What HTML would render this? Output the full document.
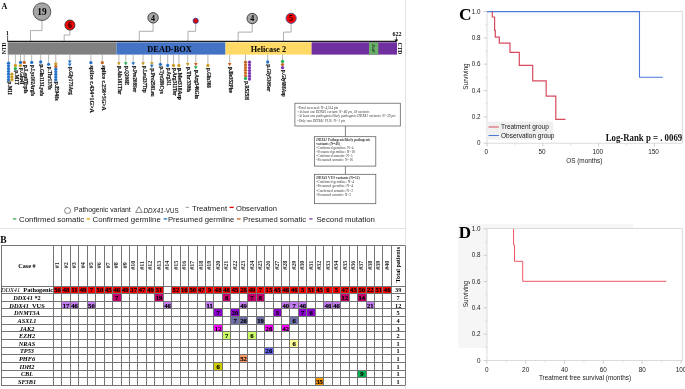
<!DOCTYPE html><html><head><meta charset="utf-8"><style>html,body{margin:0;padding:0;background:#fff;width:685px;height:389px;overflow:hidden}svg{display:block;will-change:transform}</style></head><body>
<svg width="685" height="389" viewBox="0 0 685 389">
<rect x="0" y="0" width="685" height="389" fill="#fff"/>
<line x1="405.5" y1="0" x2="405.5" y2="389" stroke="#e4e4e4" stroke-width="1"/>
<line x1="0" y1="228.5" x2="405.5" y2="228.5" stroke="#e4e4e4" stroke-width="1"/>
<text x="1.5" y="8.6" font-family='"Liberation Serif", serif' font-weight="bold" font-size="8">A</text>
<polyline points="42,20.5 42,30.6 30.5,30.6 30.5,41" fill="none" stroke="#9a9a9a" stroke-width="0.8"/>
<circle cx="42" cy="11.7" r="8.8" fill="#a6a6a6" stroke="#4a4a4a" stroke-width="0.9"/>
<text x="42" y="14.895999999999999" text-anchor="middle" font-family='"Liberation Serif", serif' font-weight="bold" font-size="9.4">19</text>
<polyline points="69.9,30.1 69.9,35 64.2,35 64.2,41" fill="none" stroke="#9a9a9a" stroke-width="0.8"/>
<circle cx="69.9" cy="25.1" r="5" fill="#ff0000" stroke="#333" stroke-width="0.9"/>
<text x="69.9" y="27.752000000000002" text-anchor="middle" font-family='"Liberation Serif", serif' font-weight="bold" font-size="7.8">6</text>
<polyline points="153.1,23.0 153.1,31.3 139.3,31.3 139.3,41" fill="none" stroke="#9a9a9a" stroke-width="0.8"/>
<circle cx="153.1" cy="17.8" r="5.2" fill="#a6a6a6" stroke="#333" stroke-width="0.9"/>
<text x="153.1" y="20.52" text-anchor="middle" font-family='"Liberation Serif", serif' font-weight="bold" font-size="8">4</text>
<polyline points="195.7,23.400000000000002 195.7,31.3 188,31.3 188,41" fill="none" stroke="#9a9a9a" stroke-width="0.8"/>
<circle cx="195.7" cy="20.8" r="2.6" fill="#e00000" stroke="#334499" stroke-width="0.9"/>
<polyline points="252.2,23.7 252.2,32.1 238.2,32.1 238.2,41" fill="none" stroke="#9a9a9a" stroke-width="0.8"/>
<circle cx="252.2" cy="18.5" r="5.2" fill="#a6a6a6" stroke="#333" stroke-width="0.9"/>
<text x="252.2" y="21.22" text-anchor="middle" font-family='"Liberation Serif", serif' font-weight="bold" font-size="8">4</text>
<polyline points="291.1,23.4 291.1,32.1 283.5,32.1 283.5,41" fill="none" stroke="#9a9a9a" stroke-width="0.8"/>
<circle cx="291.1" cy="18.3" r="5.1" fill="#ff0000" stroke="#445599" stroke-width="0.9"/>
<text x="291.1" y="21.02" text-anchor="middle" font-family='"Liberation Serif", serif' font-weight="bold" font-size="8">5</text>
<text x="7.4" y="35.3" text-anchor="middle" font-family='"Liberation Serif", serif' font-weight="bold" font-size="5.6">1</text>
<line x1="7.6" y1="35.5" x2="7.6" y2="41.5" stroke="#222" stroke-width="0.8"/>
<line x1="7.5" y1="41.3" x2="396" y2="41.3" stroke="#1a1a1a" stroke-width="1.3"/>
<text x="397.1" y="36" text-anchor="middle" font-family='"Liberation Serif", serif' font-weight="bold" font-size="6">622</text>
<line x1="396.4" y1="36.6" x2="396.4" y2="41" stroke="#222" stroke-width="0.7"/>
<polygon points="394.4,39.6 398.2,39.6 396.3,42.2" fill="#111"/>
<rect x="7.7" y="42.3" width="108.8" height="12.3" fill="#808080"/>
<rect x="116.5" y="42.3" width="109" height="12.3" fill="#4472c4"/>
<rect x="225.5" y="42.3" width="86.1" height="12.3" fill="#ffd966"/>
<rect x="311.6" y="42.3" width="85.4" height="12.3" fill="#7030a0"/>
<rect x="369" y="42.3" width="9.3" height="12.3" fill="#6aae6a"/>
<text x="0" y="0" transform="translate(372.0,48.5) rotate(90)" text-anchor="middle" font-family='"Liberation Serif", serif' font-weight="bold" font-size="5" fill="#1a3a1a">ZnF</text>
<text x="169.5" y="51.5" text-anchor="middle" font-family='"Liberation Serif", serif' font-weight="bold" font-size="8.5" textLength="44.3" lengthAdjust="spacingAndGlyphs">DEAD-BOX</text>
<text x="268.45" y="51.7" text-anchor="middle" font-family='"Liberation Serif", serif' font-weight="bold" font-size="8.6" textLength="35.5" lengthAdjust="spacingAndGlyphs">Helicase 2</text>
<text x="0" y="0" transform="translate(6.2,48.4) rotate(-90)" text-anchor="middle" font-family='"Liberation Serif", serif' font-weight="bold" font-size="5.6">NTD</text>
<text x="0" y="0" transform="translate(397.6,48.4) rotate(90)" text-anchor="middle" font-family='"Liberation Serif", serif' font-weight="bold" font-size="5.6">CTD</text>
<line x1="8.5" y1="54.6" x2="8.5" y2="63.2" stroke="#9a9a9a" stroke-width="0.7"/>
<circle cx="8.5" cy="63.2" r="1.65" fill="#1f6fc5" stroke="#ffffff" stroke-opacity="0.35" stroke-width="0.3"/>
<circle cx="8.5" cy="65.95" r="1.65" fill="#1f6fc5" stroke="#ffffff" stroke-opacity="0.35" stroke-width="0.3"/>
<circle cx="8.5" cy="68.7" r="1.65" fill="#1f6fc5" stroke="#ffffff" stroke-opacity="0.35" stroke-width="0.3"/>
<circle cx="8.5" cy="71.45" r="1.65" fill="#1f6fc5" stroke="#ffffff" stroke-opacity="0.35" stroke-width="0.3"/>
<circle cx="8.5" cy="74.2" r="1.65" fill="#1f6fc5" stroke="#ffffff" stroke-opacity="0.35" stroke-width="0.3"/>
<circle cx="8.5" cy="76.95" r="1.65" fill="#1f6fc5" stroke="#ffffff" stroke-opacity="0.35" stroke-width="0.3"/>
<circle cx="8.5" cy="79.7" r="1.65" fill="#1f6fc5" stroke="#ffffff" stroke-opacity="0.35" stroke-width="0.3"/>
<circle cx="11.9" cy="74.2" r="1.65" fill="#c9981e" stroke="#ffffff" stroke-opacity="0.35" stroke-width="0.3"/>
<circle cx="11.9" cy="76.95" r="1.65" fill="#c9981e" stroke="#ffffff" stroke-opacity="0.35" stroke-width="0.3"/>
<circle cx="11.9" cy="79.7" r="1.65" fill="#c9981e" stroke="#ffffff" stroke-opacity="0.35" stroke-width="0.3"/>
<text x="0" y="0" transform="translate(8.0,81.6) rotate(90)" font-family='"Liberation Serif", serif' font-weight="bold" font-size="5.4" fill="#111" stroke="#111" stroke-width="0.18" textLength="13.2" lengthAdjust="spacingAndGlyphs">p.M1I</text>
<line x1="15.4" y1="54.6" x2="15.4" y2="65.5" stroke="#9a9a9a" stroke-width="0.7"/>
<circle cx="15.4" cy="65.5" r="1.65" fill="#c9981e" stroke="#ffffff" stroke-opacity="0.35" stroke-width="0.3"/>
<circle cx="15.4" cy="68.6" r="1.65" fill="#1fae4f" stroke="#ffffff" stroke-opacity="0.35" stroke-width="0.3"/>
<text x="0" y="0" transform="translate(14.9,70.6) rotate(90)" font-family='"Liberation Serif", serif' font-weight="bold" font-size="5.4" fill="#111" stroke="#111" stroke-width="0.18" textLength="14.5" lengthAdjust="spacingAndGlyphs">p.M1T</text>
<line x1="20.5" y1="54.6" x2="20.5" y2="62.4" stroke="#9a9a9a" stroke-width="0.7"/>
<circle cx="20.5" cy="62.4" r="1.65" fill="#1f6fc5" stroke="#ffffff" stroke-opacity="0.35" stroke-width="0.3"/>
<circle cx="20.5" cy="65.6" r="1.65" fill="#c9981e" stroke="#ffffff" stroke-opacity="0.35" stroke-width="0.3"/>
<text x="0" y="0" transform="translate(20.0,68) rotate(90)" font-family='"Liberation Serif", serif' font-weight="bold" font-size="5.4" fill="#111" stroke="#111" stroke-width="0.18" textLength="16.3" lengthAdjust="spacingAndGlyphs">p.Glu4I</text>
<line x1="24.2" y1="54.6" x2="24.2" y2="62.4" stroke="#9a9a9a" stroke-width="0.7"/>
<circle cx="24.2" cy="62.4" r="1.65" fill="#c8641e" stroke="#ffffff" stroke-opacity="0.35" stroke-width="0.3"/>
<text x="0" y="0" transform="translate(23.7,65) rotate(90)" font-family='"Liberation Serif", serif' font-weight="bold" font-size="5.4" fill="#111" stroke="#111" stroke-width="0.18" textLength="28.3" lengthAdjust="spacingAndGlyphs">p.Leu8Trpfs</text>
<line x1="31.7" y1="54.6" x2="31.7" y2="62.4" stroke="#9a9a9a" stroke-width="0.7"/>
<circle cx="31.7" cy="62.4" r="1.65" fill="#1f6fc5" stroke="#ffffff" stroke-opacity="0.35" stroke-width="0.3"/>
<text x="0" y="0" transform="translate(31.2,65) rotate(90)" font-family='"Liberation Serif", serif' font-weight="bold" font-size="5.4" fill="#111" stroke="#111" stroke-width="0.18" textLength="30.9" lengthAdjust="spacingAndGlyphs">p.Lys102Argfs</text>
<line x1="40.7" y1="54.6" x2="40.7" y2="62.0" stroke="#9a9a9a" stroke-width="0.7"/>
<circle cx="40.7" cy="62.0" r="1.65" fill="#1f6fc5" stroke="#ffffff" stroke-opacity="0.35" stroke-width="0.3"/>
<text x="0" y="0" transform="translate(40.2,64.5) rotate(90)" font-family='"Liberation Serif", serif' font-weight="bold" font-size="5.4" fill="#111" stroke="#111" stroke-width="0.18" textLength="31.4" lengthAdjust="spacingAndGlyphs">p.Gln113Lysfs</text>
<line x1="48.6" y1="54.6" x2="48.6" y2="64.3" stroke="#9a9a9a" stroke-width="0.7"/>
<circle cx="48.6" cy="64.3" r="1.65" fill="#1f6fc5" stroke="#ffffff" stroke-opacity="0.35" stroke-width="0.3"/>
<text x="0" y="0" transform="translate(48.1,66.8) rotate(90)" font-family='"Liberation Serif", serif' font-weight="bold" font-size="5.4" fill="#111" stroke="#111" stroke-width="0.18" textLength="22.9" lengthAdjust="spacingAndGlyphs">p.Thr137fs</text>
<line x1="55.8" y1="54.6" x2="55.8" y2="64.0" stroke="#9a9a9a" stroke-width="0.7"/>
<circle cx="55.8" cy="64.0" r="1.65" fill="#c9981e" stroke="#ffffff" stroke-opacity="0.35" stroke-width="0.3"/>
<circle cx="55.8" cy="66.62" r="1.65" fill="#c8641e" stroke="#ffffff" stroke-opacity="0.35" stroke-width="0.3"/>
<circle cx="55.8" cy="69.24" r="1.65" fill="#1f6fc5" stroke="#ffffff" stroke-opacity="0.35" stroke-width="0.3"/>
<circle cx="55.8" cy="71.86" r="1.65" fill="#1f6fc5" stroke="#ffffff" stroke-opacity="0.35" stroke-width="0.3"/>
<circle cx="55.8" cy="74.48" r="1.65" fill="#1f6fc5" stroke="#ffffff" stroke-opacity="0.35" stroke-width="0.3"/>
<circle cx="55.8" cy="77.1" r="1.65" fill="#1f6fc5" stroke="#ffffff" stroke-opacity="0.35" stroke-width="0.3"/>
<circle cx="55.8" cy="79.72" r="1.65" fill="#1f6fc5" stroke="#ffffff" stroke-opacity="0.35" stroke-width="0.3"/>
<text x="0" y="0" transform="translate(55.3,81.5) rotate(90)" font-family='"Liberation Serif", serif' font-weight="bold" font-size="5.4" fill="#111" stroke="#111" stroke-width="0.18" textLength="19.1" lengthAdjust="spacingAndGlyphs">p.E94fs</text>
<line x1="69.75" y1="54.6" x2="69.75" y2="62" stroke="#9a9a9a" stroke-width="0.7"/>
<polygon points="67.95,60.5 71.55,60.5 69.75,63.7" fill="#1f6fc5"/>
<polygon points="67.95,63.5 71.55,63.5 69.75,66.7" fill="#1f6fc5"/>
<text x="0" y="0" transform="translate(69.25,67) rotate(90)" font-family='"Liberation Serif", serif' font-weight="bold" font-size="5.4" fill="#111" stroke="#111" stroke-width="0.18" textLength="27.8" lengthAdjust="spacingAndGlyphs">p.Gly173Arg</text>
<line x1="90.9" y1="54.6" x2="90.9" y2="62.7" stroke="#9a9a9a" stroke-width="0.7"/>
<circle cx="90.9" cy="62.7" r="1.65" fill="#1f6fc5" stroke="#ffffff" stroke-opacity="0.35" stroke-width="0.3"/>
<text x="0" y="0" transform="translate(90.4,65.5) rotate(90)" font-family='"Liberation Serif", serif' font-weight="bold" font-size="5.4" fill="#111" stroke="#111" stroke-width="0.18" textLength="47.4" lengthAdjust="spacingAndGlyphs">splice c.434+1G&gt;A</text>
<line x1="102.3" y1="54.6" x2="102.3" y2="62.7" stroke="#9a9a9a" stroke-width="0.7"/>
<circle cx="102.3" cy="62.7" r="1.65" fill="#c8641e" stroke="#ffffff" stroke-opacity="0.35" stroke-width="0.3"/>
<text x="0" y="0" transform="translate(101.8,65.5) rotate(90)" font-family='"Liberation Serif", serif' font-weight="bold" font-size="5.4" fill="#111" stroke="#111" stroke-width="0.18" textLength="45.1" lengthAdjust="spacingAndGlyphs">splice c.258+5G&gt;A</text>
<line x1="118.9" y1="54.6" x2="118.9" y2="63.7" stroke="#9a9a9a" stroke-width="0.7"/>
<polygon points="117.10000000000001,62.2 120.7,62.2 118.9,65.4" fill="#c9981e"/>
<text x="0" y="0" transform="translate(118.4,66) rotate(90)" font-family='"Liberation Serif", serif' font-weight="bold" font-size="5.4" fill="#111" stroke="#111" stroke-width="0.18" textLength="28.4" lengthAdjust="spacingAndGlyphs">p.Ala181Thr</text>
<line x1="125.8" y1="54.6" x2="125.8" y2="63.7" stroke="#9a9a9a" stroke-width="0.7"/>
<polygon points="124.0,62.2 127.6,62.2 125.8,65.4" fill="#1fae4f"/>
<text x="0" y="0" transform="translate(125.3,66) rotate(90)" font-family='"Liberation Serif", serif' font-weight="bold" font-size="5.4" fill="#111" stroke="#111" stroke-width="0.18" textLength="19.1" lengthAdjust="spacingAndGlyphs">p.Q208E</text>
<line x1="133.2" y1="54.6" x2="133.2" y2="63.7" stroke="#9a9a9a" stroke-width="0.7"/>
<polygon points="131.39999999999998,62.2 135.0,62.2 133.2,65.4" fill="#1f6fc5"/>
<text x="0" y="0" transform="translate(132.7,66) rotate(90)" font-family='"Liberation Serif", serif' font-weight="bold" font-size="5.4" fill="#111" stroke="#111" stroke-width="0.18" textLength="26.1" lengthAdjust="spacingAndGlyphs">p.Pro208Ser</text>
<line x1="143.1" y1="54.6" x2="143.1" y2="63.7" stroke="#9a9a9a" stroke-width="0.7"/>
<polygon points="141.29999999999998,62.2 144.9,62.2 143.1,65.4" fill="#c9981e"/>
<text x="0" y="0" transform="translate(142.6,66) rotate(90)" font-family='"Liberation Serif", serif' font-weight="bold" font-size="5.4" fill="#111" stroke="#111" stroke-width="0.18" textLength="26.8" lengthAdjust="spacingAndGlyphs">p.Leu237Trp</text>
<line x1="151.8" y1="54.6" x2="151.8" y2="63.7" stroke="#9a9a9a" stroke-width="0.7"/>
<polygon points="150.0,62.2 153.60000000000002,62.2 151.8,65.4" fill="#c9981e"/>
<polygon points="150.0,64.8 153.60000000000002,64.8 151.8,68.0" fill="#1f6fc5"/>
<text x="0" y="0" transform="translate(151.3,68.5) rotate(90)" font-family='"Liberation Serif", serif' font-weight="bold" font-size="5.4" fill="#111" stroke="#111" stroke-width="0.18" textLength="28.2" lengthAdjust="spacingAndGlyphs">p.Pro258Leu</text>
<line x1="160.4" y1="54.6" x2="160.4" y2="64.3" stroke="#9a9a9a" stroke-width="0.7"/>
<circle cx="160.4" cy="64.3" r="1.65" fill="#1f6fc5" stroke="#ffffff" stroke-opacity="0.35" stroke-width="0.3"/>
<text x="0" y="0" transform="translate(159.9,66.5) rotate(90)" font-family='"Liberation Serif", serif' font-weight="bold" font-size="5.4" fill="#111" stroke="#111" stroke-width="0.18" textLength="27.1" lengthAdjust="spacingAndGlyphs">p.Tyr289Cys</text>
<line x1="167.7" y1="54.6" x2="167.7" y2="65.5" stroke="#9a9a9a" stroke-width="0.7"/>
<circle cx="167.7" cy="65.5" r="1.65" fill="#1f6fc5" stroke="#ffffff" stroke-opacity="0.35" stroke-width="0.3"/>
<text x="0" y="0" transform="translate(167.2,68) rotate(90)" font-family='"Liberation Serif", serif' font-weight="bold" font-size="5.4" fill="#111" stroke="#111" stroke-width="0.18" textLength="17.9" lengthAdjust="spacingAndGlyphs">p.Arg311</text>
<line x1="173.5" y1="54.6" x2="173.5" y2="65.5" stroke="#9a9a9a" stroke-width="0.7"/>
<circle cx="173.5" cy="65.5" r="1.65" fill="#c9981e" stroke="#ffffff" stroke-opacity="0.35" stroke-width="0.3"/>
<text x="0" y="0" transform="translate(173.0,68) rotate(90)" font-family='"Liberation Serif", serif' font-weight="bold" font-size="5.4" fill="#111" stroke="#111" stroke-width="0.18" textLength="27.5" lengthAdjust="spacingAndGlyphs">p.Arg311Ter</text>
<line x1="178.9" y1="54.6" x2="178.9" y2="65.5" stroke="#9a9a9a" stroke-width="0.7"/>
<circle cx="178.9" cy="65.5" r="1.65" fill="#c9981e" stroke="#ffffff" stroke-opacity="0.35" stroke-width="0.3"/>
<text x="0" y="0" transform="translate(178.4,68) rotate(90)" font-family='"Liberation Serif", serif' font-weight="bold" font-size="5.4" fill="#111" stroke="#111" stroke-width="0.18" textLength="31.8" lengthAdjust="spacingAndGlyphs">p.Met318Asp</text>
<line x1="187.7" y1="54.6" x2="187.7" y2="64.5" stroke="#9a9a9a" stroke-width="0.7"/>
<polygon points="185.89999999999998,63.0 189.5,63.0 187.7,66.2" fill="#c9981e"/>
<text x="0" y="0" transform="translate(187.2,67) rotate(90)" font-family='"Liberation Serif", serif' font-weight="bold" font-size="5.4" fill="#111" stroke="#111" stroke-width="0.18" textLength="25.1" lengthAdjust="spacingAndGlyphs">p.Thr330fs</text>
<line x1="195.8" y1="54.6" x2="195.8" y2="64.6" stroke="#9a9a9a" stroke-width="0.7"/>
<polygon points="194.0,63.099999999999994 197.60000000000002,63.099999999999994 195.8,66.3" fill="#c8641e"/>
<polygon points="194.0,66.19999999999999 197.60000000000002,66.19999999999999 195.8,69.39999999999999" fill="#1fae4f"/>
<text x="0" y="0" transform="translate(195.3,70) rotate(90)" font-family='"Liberation Serif", serif' font-weight="bold" font-size="5.4" fill="#111" stroke="#111" stroke-width="0.18" textLength="29.0" lengthAdjust="spacingAndGlyphs">p.Arg346Gln</text>
<line x1="207.9" y1="54.6" x2="207.9" y2="65.5" stroke="#9a9a9a" stroke-width="0.7"/>
<circle cx="207.9" cy="65.5" r="1.65" fill="#c9981e" stroke="#ffffff" stroke-opacity="0.35" stroke-width="0.3"/>
<text x="0" y="0" transform="translate(207.4,68) rotate(90)" font-family='"Liberation Serif", serif' font-weight="bold" font-size="5.4" fill="#111" stroke="#111" stroke-width="0.18" textLength="19.7" lengthAdjust="spacingAndGlyphs">p.Gln368</text>
<line x1="229.7" y1="54.6" x2="229.7" y2="64.6" stroke="#9a9a9a" stroke-width="0.7"/>
<polygon points="227.89999999999998,63.099999999999994 231.5,63.099999999999994 229.7,66.3" fill="#c8641e"/>
<text x="0" y="0" transform="translate(229.2,67) rotate(90)" font-family='"Liberation Serif", serif' font-weight="bold" font-size="5.4" fill="#111" stroke="#111" stroke-width="0.18" textLength="25.8" lengthAdjust="spacingAndGlyphs">p.Ile352Phe</text>
<line x1="245.5" y1="54.6" x2="245.5" y2="62.2" stroke="#9a9a9a" stroke-width="0.7"/>
<circle cx="245.5" cy="62.2" r="1.65" fill="#c8641e" stroke="#ffffff" stroke-opacity="0.35" stroke-width="0.3"/>
<circle cx="245.5" cy="64.92" r="1.65" fill="#c8641e" stroke="#ffffff" stroke-opacity="0.35" stroke-width="0.3"/>
<circle cx="245.5" cy="67.64" r="1.65" fill="#c8641e" stroke="#ffffff" stroke-opacity="0.35" stroke-width="0.3"/>
<circle cx="245.5" cy="70.36" r="1.65" fill="#c8641e" stroke="#ffffff" stroke-opacity="0.35" stroke-width="0.3"/>
<circle cx="245.5" cy="73.08" r="1.65" fill="#c8641e" stroke="#ffffff" stroke-opacity="0.35" stroke-width="0.3"/>
<circle cx="245.5" cy="75.80000000000001" r="1.65" fill="#c8641e" stroke="#ffffff" stroke-opacity="0.35" stroke-width="0.3"/>
<circle cx="245.5" cy="78.52000000000001" r="1.65" fill="#1fae4f" stroke="#ffffff" stroke-opacity="0.35" stroke-width="0.3"/>
<circle cx="249.5" cy="62.2" r="1.65" fill="#7a2fb0" stroke="#ffffff" stroke-opacity="0.35" stroke-width="0.3"/>
<circle cx="249.5" cy="65.0" r="1.65" fill="#7a2fb0" stroke="#ffffff" stroke-opacity="0.35" stroke-width="0.3"/>
<circle cx="249.5" cy="67.8" r="1.65" fill="#7a2fb0" stroke="#ffffff" stroke-opacity="0.35" stroke-width="0.3"/>
<circle cx="249.5" cy="70.6" r="1.65" fill="#7a2fb0" stroke="#ffffff" stroke-opacity="0.35" stroke-width="0.3"/>
<circle cx="249.5" cy="73.4" r="1.65" fill="#7a2fb0" stroke="#ffffff" stroke-opacity="0.35" stroke-width="0.3"/>
<circle cx="249.5" cy="76.2" r="1.65" fill="#7a2fb0" stroke="#ffffff" stroke-opacity="0.35" stroke-width="0.3"/>
<circle cx="249.5" cy="79.0" r="1.65" fill="#7a2fb0" stroke="#ffffff" stroke-opacity="0.35" stroke-width="0.3"/>
<text x="0" y="0" transform="translate(245.0,81.2) rotate(90)" font-family='"Liberation Serif", serif' font-weight="bold" font-size="5.4" fill="#111" stroke="#111" stroke-width="0.18" textLength="18.9" lengthAdjust="spacingAndGlyphs">p.R525H</text>
<line x1="267.7" y1="54.6" x2="267.7" y2="62.0" stroke="#9a9a9a" stroke-width="0.7"/>
<circle cx="267.7" cy="62.0" r="1.65" fill="#1f6fc5" stroke="#ffffff" stroke-opacity="0.35" stroke-width="0.3"/>
<text x="0" y="0" transform="translate(267.2,64.5) rotate(90)" font-family='"Liberation Serif", serif' font-weight="bold" font-size="5.4" fill="#111" stroke="#111" stroke-width="0.18" textLength="26.8" lengthAdjust="spacingAndGlyphs">p.Gly530Ser</text>
<line x1="282.5" y1="54.6" x2="282.5" y2="61.5" stroke="#9a9a9a" stroke-width="0.7"/>
<circle cx="282.5" cy="61.5" r="1.65" fill="#1fae4f" stroke="#ffffff" stroke-opacity="0.35" stroke-width="0.3"/>
<circle cx="282.5" cy="64.6" r="1.65" fill="#c8641e" stroke="#ffffff" stroke-opacity="0.35" stroke-width="0.3"/>
<circle cx="282.5" cy="67.7" r="1.65" fill="#7a2fb0" stroke="#ffffff" stroke-opacity="0.35" stroke-width="0.3"/>
<text x="0" y="0" transform="translate(282.0,70) rotate(90)" font-family='"Liberation Serif", serif' font-weight="bold" font-size="5.4" fill="#111" stroke="#111" stroke-width="0.18" textLength="26.7" lengthAdjust="spacingAndGlyphs">p.Gly608Asp</text>
<rect x="294.9" y="103.2" width="105.4" height="22.8" fill="#fff" stroke="#5a5a5a" stroke-width="0.75"/>
<line x1="345.4" y1="126" x2="345.4" y2="136.7" stroke="#5a5a5a" stroke-width="0.75"/>
<rect x="314.6" y="136.7" width="61.2" height="29.4" fill="#fff" stroke="#5a5a5a" stroke-width="0.75"/>
<line x1="345.4" y1="166.1" x2="345.4" y2="174.3" stroke="#5a5a5a" stroke-width="0.75"/>
<rect x="314.5" y="174.3" width="61.3" height="29.4" fill="#fff" stroke="#5a5a5a" stroke-width="0.75"/>
<text x="297.5" y="108.8" font-family='"Liberation Serif", serif' font-size="4.0" font-weight="normal" font-style="normal" fill="#3a3a3a" textLength="40.5" lengthAdjust="spacingAndGlyphs">-Total screened: N=4,524 pts</text>
<text x="297.5" y="113.0" font-family='"Liberation Serif", serif' font-size="4.0" font-weight="normal" font-style="italic" fill="#3a3a3a" textLength="71.8" lengthAdjust="spacingAndGlyphs">-At least one DDX41 variant: N=46 pts, 58 variants</text>
<text x="297.5" y="117.4" font-family='"Liberation Serif", serif' font-size="4.0" font-weight="normal" font-style="italic" fill="#3a3a3a" textLength="98.0" lengthAdjust="spacingAndGlyphs">-At least one pathogenic/likely pathogenic DDX41 variants: N=39 pts</text>
<text x="297.5" y="121.7" font-family='"Liberation Serif", serif' font-size="4.0" font-weight="normal" font-style="italic" fill="#3a3a3a" textLength="47.7" lengthAdjust="spacingAndGlyphs">-Only one DDX41 VUS: N=1 pts</text>
<text x="316.3" y="140.6" font-family='"Liberation Serif", serif' font-size="4.0" font-weight="bold" font-style="normal" fill="#3a3a3a" textLength="54.0" lengthAdjust="spacingAndGlyphs"><tspan font-style='italic'>DDX41</tspan> Pathogenic/likely pathogenic</text>
<text x="316.3" y="144.9" font-family='"Liberation Serif", serif' font-size="4.0" font-weight="bold" font-style="normal" fill="#3a3a3a" textLength="23.7" lengthAdjust="spacingAndGlyphs">variants (N=46)</text>
<text x="316.3" y="149.1" font-family='"Liberation Serif", serif' font-size="4.0" font-weight="normal" font-style="normal" fill="#3a3a3a" textLength="37.1" lengthAdjust="spacingAndGlyphs">-Confirmed germline: N=4</text>
<text x="316.3" y="153.1" font-family='"Liberation Serif", serif' font-size="4.0" font-weight="normal" font-style="normal" fill="#3a3a3a" textLength="38.6" lengthAdjust="spacingAndGlyphs">-Presumed germline: N=18</text>
<text x="316.3" y="157.3" font-family='"Liberation Serif", serif' font-size="4.0" font-weight="normal" font-style="normal" fill="#3a3a3a" textLength="36.2" lengthAdjust="spacingAndGlyphs">-Confirmed somatic: N=5</text>
<text x="316.3" y="161.3" font-family='"Liberation Serif", serif' font-size="4.0" font-weight="normal" font-style="normal" fill="#3a3a3a" textLength="36.6" lengthAdjust="spacingAndGlyphs">-Presumed somatic: N=16</text>
<text x="316.3" y="179.0" font-family='"Liberation Serif", serif' font-size="4.0" font-weight="bold" font-style="normal" fill="#3a3a3a" textLength="43.4" lengthAdjust="spacingAndGlyphs"><tspan font-style='italic'>DDX41</tspan> VUS variants (N=12)</text>
<text x="316.3" y="183.3" font-family='"Liberation Serif", serif' font-size="4.0" font-weight="normal" font-style="normal" fill="#3a3a3a" textLength="37.6" lengthAdjust="spacingAndGlyphs">-Confirmed germline: N=4</text>
<text x="316.3" y="187.2" font-family='"Liberation Serif", serif' font-size="4.0" font-weight="normal" font-style="normal" fill="#3a3a3a" textLength="36.6" lengthAdjust="spacingAndGlyphs">-Presumed germline: N=4</text>
<text x="316.3" y="191.5" font-family='"Liberation Serif", serif' font-size="4.0" font-weight="normal" font-style="normal" fill="#3a3a3a" textLength="36.6" lengthAdjust="spacingAndGlyphs">-Confirmed somatic: N=2</text>
<text x="316.3" y="195.6" font-family='"Liberation Serif", serif' font-size="4.0" font-weight="normal" font-style="normal" fill="#3a3a3a" textLength="34.7" lengthAdjust="spacingAndGlyphs">-Presumed somatic: N=2</text>
<circle cx="67.6" cy="210.6" r="3.0" fill="none" stroke="#555" stroke-width="0.7"/>
<text x="74.1" y="212.4" font-family='"Liberation Sans", sans-serif' font-size="6.8" fill="#1a1a1a" textLength="56.6" lengthAdjust="spacingAndGlyphs">Pathogenic variant</text>
<polygon points="135.6,212.4 142.3,212.4 138.95,206.6" fill="none" stroke="#555" stroke-width="0.7"/>
<text x="143.5" y="212.7" font-family='"Liberation Sans", sans-serif' font-size="6.9" fill="#1a1a1a" textLength="35.1" lengthAdjust="spacingAndGlyphs"><tspan font-style='italic'>DDX41</tspan>-VUS</text>
<line x1="185.6" y1="207.4" x2="189" y2="207.4" stroke="#aaaaaa" stroke-width="1.2"/>
<text x="192" y="210.9" font-family='"Liberation Sans", sans-serif' font-size="7.6" fill="#1a1a1a" textLength="35.1" lengthAdjust="spacingAndGlyphs">Treatment</text>
<line x1="229.6" y1="207.4" x2="233.7" y2="207.4" stroke="#ee0000" stroke-width="1.3"/>
<text x="236" y="211.3" font-family='"Liberation Sans", sans-serif' font-size="7.6" fill="#1a1a1a" textLength="40.9" lengthAdjust="spacingAndGlyphs">Observation</text>
<line x1="12.9" y1="218.9" x2="16.4" y2="218.9" stroke="#3aaa55" stroke-width="1.3"/>
<text x="19.1" y="222.4" font-family='"Liberation Sans", sans-serif' font-size="7.8" fill="#1a1a1a" textLength="65.1" lengthAdjust="spacingAndGlyphs">Confirmed somatic</text>
<line x1="86.6" y1="218.9" x2="89.9" y2="218.9" stroke="#e0a800" stroke-width="1.3"/>
<text x="92.5" y="222.4" font-family='"Liberation Sans", sans-serif' font-size="7.8" fill="#1a1a1a" textLength="68.3" lengthAdjust="spacingAndGlyphs">Confirmed germline</text>
<line x1="163.6" y1="218.9" x2="167.2" y2="218.9" stroke="#2277cc" stroke-width="1.3"/>
<text x="167.9" y="222.4" font-family='"Liberation Sans", sans-serif' font-size="7.8" fill="#1a1a1a" textLength="66.3" lengthAdjust="spacingAndGlyphs">Presumed germline</text>
<line x1="237" y1="218.9" x2="240.6" y2="218.9" stroke="#d06020" stroke-width="1.3"/>
<text x="243.1" y="222.4" font-family='"Liberation Sans", sans-serif' font-size="7.8" fill="#1a1a1a" textLength="62.9" lengthAdjust="spacingAndGlyphs">Presumed somatic</text>
<line x1="309.2" y1="218.9" x2="312.5" y2="218.9" stroke="#7030a0" stroke-width="1.2"/>
<text x="316.4" y="222.4" font-family='"Liberation Sans", sans-serif' font-size="7.8" fill="#1a1a1a" textLength="58.5" lengthAdjust="spacingAndGlyphs">Second mutation</text>
<text x="0.3" y="242.5" font-family='"Liberation Serif", serif' font-weight="bold" font-size="9.6">B</text>
<rect x="53.40" y="286.00" width="8.45" height="7.64" fill="#ff0000"/>
<rect x="61.85" y="286.00" width="8.45" height="7.64" fill="#ff0000"/>
<rect x="70.30" y="286.00" width="8.45" height="7.64" fill="#ff0000"/>
<rect x="78.75" y="286.00" width="8.45" height="7.64" fill="#ff0000"/>
<rect x="87.20" y="286.00" width="8.45" height="7.64" fill="#ff0000"/>
<rect x="95.65" y="286.00" width="8.45" height="7.64" fill="#ff0000"/>
<rect x="104.10" y="286.00" width="8.45" height="7.64" fill="#ff0000"/>
<rect x="112.55" y="286.00" width="8.45" height="7.64" fill="#ff0000"/>
<rect x="121.00" y="286.00" width="8.45" height="7.64" fill="#ff0000"/>
<rect x="129.45" y="286.00" width="8.45" height="7.64" fill="#ff0000"/>
<rect x="137.90" y="286.00" width="8.45" height="7.64" fill="#ff0000"/>
<rect x="146.35" y="286.00" width="8.45" height="7.64" fill="#ff0000"/>
<rect x="154.80" y="286.00" width="8.45" height="7.64" fill="#ff0000"/>
<rect x="171.70" y="286.00" width="8.45" height="7.64" fill="#ff0000"/>
<rect x="180.15" y="286.00" width="8.45" height="7.64" fill="#ff0000"/>
<rect x="188.60" y="286.00" width="8.45" height="7.64" fill="#ff0000"/>
<rect x="197.05" y="286.00" width="8.45" height="7.64" fill="#ff0000"/>
<rect x="205.50" y="286.00" width="8.45" height="7.64" fill="#ff0000"/>
<rect x="213.95" y="286.00" width="8.45" height="7.64" fill="#ff0000"/>
<rect x="222.40" y="286.00" width="8.45" height="7.64" fill="#ff0000"/>
<rect x="230.85" y="286.00" width="8.45" height="7.64" fill="#ff0000"/>
<rect x="239.30" y="286.00" width="8.45" height="7.64" fill="#ff0000"/>
<rect x="247.75" y="286.00" width="8.45" height="7.64" fill="#ff0000"/>
<rect x="256.20" y="286.00" width="8.45" height="7.64" fill="#ff0000"/>
<rect x="264.65" y="286.00" width="8.45" height="7.64" fill="#ff0000"/>
<rect x="273.10" y="286.00" width="8.45" height="7.64" fill="#ff0000"/>
<rect x="281.55" y="286.00" width="8.45" height="7.64" fill="#ff0000"/>
<rect x="290.00" y="286.00" width="8.45" height="7.64" fill="#ff0000"/>
<rect x="298.45" y="286.00" width="8.45" height="7.64" fill="#ff0000"/>
<rect x="306.90" y="286.00" width="8.45" height="7.64" fill="#ff0000"/>
<rect x="315.35" y="286.00" width="8.45" height="7.64" fill="#ff0000"/>
<rect x="323.80" y="286.00" width="8.45" height="7.64" fill="#ff0000"/>
<rect x="332.25" y="286.00" width="8.45" height="7.64" fill="#ff0000"/>
<rect x="340.70" y="286.00" width="8.45" height="7.64" fill="#ff0000"/>
<rect x="349.15" y="286.00" width="8.45" height="7.64" fill="#ff0000"/>
<rect x="357.60" y="286.00" width="8.45" height="7.64" fill="#ff0000"/>
<rect x="366.05" y="286.00" width="8.45" height="7.64" fill="#ff0000"/>
<rect x="374.50" y="286.00" width="8.45" height="7.64" fill="#ff0000"/>
<rect x="382.95" y="286.00" width="8.45" height="7.64" fill="#ff0000"/>
<rect x="112.55" y="293.64" width="8.45" height="7.64" fill="#c3006b"/>
<rect x="154.80" y="293.64" width="8.45" height="7.64" fill="#c3006b"/>
<rect x="222.40" y="293.64" width="8.45" height="7.64" fill="#c3006b"/>
<rect x="247.75" y="293.64" width="8.45" height="7.64" fill="#c3006b"/>
<rect x="256.20" y="293.64" width="8.45" height="7.64" fill="#c3006b"/>
<rect x="340.70" y="293.64" width="8.45" height="7.64" fill="#c3006b"/>
<rect x="357.60" y="293.64" width="8.45" height="7.64" fill="#c3006b"/>
<rect x="61.85" y="301.28" width="8.45" height="7.64" fill="#c57cf5"/>
<rect x="70.30" y="301.28" width="8.45" height="7.64" fill="#c57cf5"/>
<rect x="87.20" y="301.28" width="8.45" height="7.64" fill="#c57cf5"/>
<rect x="163.25" y="301.28" width="8.45" height="7.64" fill="#c57cf5"/>
<rect x="205.50" y="301.28" width="8.45" height="7.64" fill="#c57cf5"/>
<rect x="239.30" y="301.28" width="8.45" height="7.64" fill="#c57cf5"/>
<rect x="281.55" y="301.28" width="8.45" height="7.64" fill="#c57cf5"/>
<rect x="290.00" y="301.28" width="8.45" height="7.64" fill="#c57cf5"/>
<rect x="298.45" y="301.28" width="8.45" height="7.64" fill="#c57cf5"/>
<rect x="323.80" y="301.28" width="8.45" height="7.64" fill="#c57cf5"/>
<rect x="332.25" y="301.28" width="8.45" height="7.64" fill="#c57cf5"/>
<rect x="366.05" y="301.28" width="8.45" height="7.64" fill="#c57cf5"/>
<rect x="213.95" y="308.92" width="8.45" height="7.64" fill="#8b00cc"/>
<rect x="230.85" y="308.92" width="8.45" height="7.64" fill="#8b00cc"/>
<rect x="273.10" y="308.92" width="8.45" height="7.64" fill="#8b00cc"/>
<rect x="298.45" y="308.92" width="8.45" height="7.64" fill="#8b00cc"/>
<rect x="306.90" y="308.92" width="8.45" height="7.64" fill="#8b00cc"/>
<rect x="230.85" y="316.55" width="8.45" height="7.64" fill="#6f70a8"/>
<rect x="239.30" y="316.55" width="8.45" height="7.64" fill="#6f70a8"/>
<rect x="256.20" y="316.55" width="8.45" height="7.64" fill="#6f70a8"/>
<rect x="290.00" y="316.55" width="8.45" height="7.64" fill="#6f70a8"/>
<rect x="213.95" y="324.19" width="8.45" height="7.64" fill="#ff00ff"/>
<rect x="264.65" y="324.19" width="8.45" height="7.64" fill="#ff00ff"/>
<rect x="281.55" y="324.19" width="8.45" height="7.64" fill="#ff00ff"/>
<rect x="222.40" y="331.83" width="8.45" height="7.64" fill="#ccff66"/>
<rect x="247.75" y="331.83" width="8.45" height="7.64" fill="#ccff66"/>
<rect x="290.00" y="339.47" width="8.45" height="7.64" fill="#ffff99"/>
<rect x="264.65" y="347.11" width="8.45" height="7.64" fill="#6666ff"/>
<rect x="239.30" y="354.75" width="8.45" height="7.64" fill="#ff9966"/>
<rect x="213.95" y="362.38" width="8.45" height="7.64" fill="#cccc00"/>
<rect x="357.60" y="370.02" width="8.45" height="7.64" fill="#00b050"/>
<rect x="315.35" y="377.66" width="8.45" height="7.64" fill="#ff9900"/>
<line x1="1.0" y1="286.5" x2="405.0" y2="286.5" stroke="#747474" stroke-width="1"/>
<line x1="1.0" y1="293.5" x2="405.0" y2="293.5" stroke="#747474" stroke-width="1"/>
<line x1="1.0" y1="301.5" x2="405.0" y2="301.5" stroke="#747474" stroke-width="1"/>
<line x1="1.0" y1="308.5" x2="405.0" y2="308.5" stroke="#747474" stroke-width="1"/>
<line x1="1.0" y1="316.5" x2="405.0" y2="316.5" stroke="#747474" stroke-width="1"/>
<line x1="1.0" y1="324.5" x2="405.0" y2="324.5" stroke="#747474" stroke-width="1"/>
<line x1="1.0" y1="331.5" x2="405.0" y2="331.5" stroke="#747474" stroke-width="1"/>
<line x1="1.0" y1="339.5" x2="405.0" y2="339.5" stroke="#747474" stroke-width="1"/>
<line x1="1.0" y1="347.5" x2="405.0" y2="347.5" stroke="#747474" stroke-width="1"/>
<line x1="1.0" y1="354.5" x2="405.0" y2="354.5" stroke="#747474" stroke-width="1"/>
<line x1="1.0" y1="362.5" x2="405.0" y2="362.5" stroke="#747474" stroke-width="1"/>
<line x1="1.0" y1="370.5" x2="405.0" y2="370.5" stroke="#747474" stroke-width="1"/>
<line x1="1.0" y1="377.5" x2="405.0" y2="377.5" stroke="#747474" stroke-width="1"/>
<line x1="1.0" y1="385.5" x2="405.0" y2="385.5" stroke="#747474" stroke-width="1"/>
<line x1="1.0" y1="245.5" x2="405.0" y2="245.5" stroke="#747474" stroke-width="1"/>
<line x1="53.5" y1="245.5" x2="53.5" y2="385.5" stroke="#747474" stroke-width="1"/>
<line x1="61.5" y1="245.5" x2="61.5" y2="385.5" stroke="#747474" stroke-width="1"/>
<line x1="70.5" y1="245.5" x2="70.5" y2="385.5" stroke="#747474" stroke-width="1"/>
<line x1="78.5" y1="245.5" x2="78.5" y2="385.5" stroke="#747474" stroke-width="1"/>
<line x1="87.5" y1="245.5" x2="87.5" y2="385.5" stroke="#747474" stroke-width="1"/>
<line x1="95.5" y1="245.5" x2="95.5" y2="385.5" stroke="#747474" stroke-width="1"/>
<line x1="104.5" y1="245.5" x2="104.5" y2="385.5" stroke="#747474" stroke-width="1"/>
<line x1="112.5" y1="245.5" x2="112.5" y2="385.5" stroke="#747474" stroke-width="1"/>
<line x1="121.5" y1="245.5" x2="121.5" y2="385.5" stroke="#747474" stroke-width="1"/>
<line x1="129.5" y1="245.5" x2="129.5" y2="385.5" stroke="#747474" stroke-width="1"/>
<line x1="137.5" y1="245.5" x2="137.5" y2="385.5" stroke="#747474" stroke-width="1"/>
<line x1="146.5" y1="245.5" x2="146.5" y2="385.5" stroke="#747474" stroke-width="1"/>
<line x1="154.5" y1="245.5" x2="154.5" y2="385.5" stroke="#747474" stroke-width="1"/>
<line x1="163.5" y1="245.5" x2="163.5" y2="385.5" stroke="#747474" stroke-width="1"/>
<line x1="171.5" y1="245.5" x2="171.5" y2="385.5" stroke="#747474" stroke-width="1"/>
<line x1="180.5" y1="245.5" x2="180.5" y2="385.5" stroke="#747474" stroke-width="1"/>
<line x1="188.5" y1="245.5" x2="188.5" y2="385.5" stroke="#747474" stroke-width="1"/>
<line x1="197.5" y1="245.5" x2="197.5" y2="385.5" stroke="#747474" stroke-width="1"/>
<line x1="205.5" y1="245.5" x2="205.5" y2="385.5" stroke="#747474" stroke-width="1"/>
<line x1="213.5" y1="245.5" x2="213.5" y2="385.5" stroke="#747474" stroke-width="1"/>
<line x1="222.5" y1="245.5" x2="222.5" y2="385.5" stroke="#747474" stroke-width="1"/>
<line x1="230.5" y1="245.5" x2="230.5" y2="385.5" stroke="#747474" stroke-width="1"/>
<line x1="239.5" y1="245.5" x2="239.5" y2="385.5" stroke="#747474" stroke-width="1"/>
<line x1="247.5" y1="245.5" x2="247.5" y2="385.5" stroke="#747474" stroke-width="1"/>
<line x1="256.5" y1="245.5" x2="256.5" y2="385.5" stroke="#747474" stroke-width="1"/>
<line x1="264.5" y1="245.5" x2="264.5" y2="385.5" stroke="#747474" stroke-width="1"/>
<line x1="273.5" y1="245.5" x2="273.5" y2="385.5" stroke="#747474" stroke-width="1"/>
<line x1="281.5" y1="245.5" x2="281.5" y2="385.5" stroke="#747474" stroke-width="1"/>
<line x1="289.5" y1="245.5" x2="289.5" y2="385.5" stroke="#747474" stroke-width="1"/>
<line x1="298.5" y1="245.5" x2="298.5" y2="385.5" stroke="#747474" stroke-width="1"/>
<line x1="306.5" y1="245.5" x2="306.5" y2="385.5" stroke="#747474" stroke-width="1"/>
<line x1="315.5" y1="245.5" x2="315.5" y2="385.5" stroke="#747474" stroke-width="1"/>
<line x1="323.5" y1="245.5" x2="323.5" y2="385.5" stroke="#747474" stroke-width="1"/>
<line x1="332.5" y1="245.5" x2="332.5" y2="385.5" stroke="#747474" stroke-width="1"/>
<line x1="340.5" y1="245.5" x2="340.5" y2="385.5" stroke="#747474" stroke-width="1"/>
<line x1="349.5" y1="245.5" x2="349.5" y2="385.5" stroke="#747474" stroke-width="1"/>
<line x1="357.5" y1="245.5" x2="357.5" y2="385.5" stroke="#747474" stroke-width="1"/>
<line x1="366.5" y1="245.5" x2="366.5" y2="385.5" stroke="#747474" stroke-width="1"/>
<line x1="374.5" y1="245.5" x2="374.5" y2="385.5" stroke="#747474" stroke-width="1"/>
<line x1="382.5" y1="245.5" x2="382.5" y2="385.5" stroke="#747474" stroke-width="1"/>
<line x1="391.5" y1="245.5" x2="391.5" y2="385.5" stroke="#747474" stroke-width="1"/>
<line x1="1.5" y1="245.5" x2="1.5" y2="385.5" stroke="#747474" stroke-width="1"/>
<line x1="405.5" y1="245.5" x2="405.5" y2="385.5" stroke="#747474" stroke-width="1"/>
<text x="27" y="268.2" text-anchor="middle" font-family='"Liberation Serif", serif' font-weight="bold" font-size="6.2">Case #</text>
<text x="0" y="0" transform="translate(59.23,265.3) rotate(-90)" text-anchor="middle" font-family='"Liberation Serif", serif' font-weight="bold" font-size="6" fill="#222">#1</text>
<text x="0" y="0" transform="translate(67.67,265.3) rotate(-90)" text-anchor="middle" font-family='"Liberation Serif", serif' font-weight="bold" font-size="6" fill="#222">#2</text>
<text x="0" y="0" transform="translate(76.12,265.3) rotate(-90)" text-anchor="middle" font-family='"Liberation Serif", serif' font-weight="bold" font-size="6" fill="#222">#3</text>
<text x="0" y="0" transform="translate(84.57,265.3) rotate(-90)" text-anchor="middle" font-family='"Liberation Serif", serif' font-weight="bold" font-size="6" fill="#222">#4</text>
<text x="0" y="0" transform="translate(93.02,265.3) rotate(-90)" text-anchor="middle" font-family='"Liberation Serif", serif' font-weight="bold" font-size="6" fill="#222">#5</text>
<text x="0" y="0" transform="translate(101.47,265.3) rotate(-90)" text-anchor="middle" font-family='"Liberation Serif", serif' font-weight="bold" font-size="6" fill="#222">#6</text>
<text x="0" y="0" transform="translate(109.92,265.3) rotate(-90)" text-anchor="middle" font-family='"Liberation Serif", serif' font-weight="bold" font-size="6" fill="#222">#7</text>
<text x="0" y="0" transform="translate(118.37,265.3) rotate(-90)" text-anchor="middle" font-family='"Liberation Serif", serif' font-weight="bold" font-size="6" fill="#222">#8</text>
<text x="0" y="0" transform="translate(126.82,265.3) rotate(-90)" text-anchor="middle" font-family='"Liberation Serif", serif' font-weight="bold" font-size="6" fill="#222">#9</text>
<text x="0" y="0" transform="translate(135.27,265.3) rotate(-90)" text-anchor="middle" font-family='"Liberation Serif", serif' font-weight="bold" font-size="6" fill="#222">#10</text>
<text x="0" y="0" transform="translate(143.72,265.3) rotate(-90)" text-anchor="middle" font-family='"Liberation Serif", serif' font-weight="bold" font-size="6" fill="#222">#11</text>
<text x="0" y="0" transform="translate(152.17,265.3) rotate(-90)" text-anchor="middle" font-family='"Liberation Serif", serif' font-weight="bold" font-size="6" fill="#222">#12</text>
<text x="0" y="0" transform="translate(160.62,265.3) rotate(-90)" text-anchor="middle" font-family='"Liberation Serif", serif' font-weight="bold" font-size="6" fill="#222">#13</text>
<text x="0" y="0" transform="translate(169.07,265.3) rotate(-90)" text-anchor="middle" font-family='"Liberation Serif", serif' font-weight="bold" font-size="6" fill="#222">#14</text>
<text x="0" y="0" transform="translate(177.52,265.3) rotate(-90)" text-anchor="middle" font-family='"Liberation Serif", serif' font-weight="bold" font-size="6" fill="#222">#15</text>
<text x="0" y="0" transform="translate(185.97,265.3) rotate(-90)" text-anchor="middle" font-family='"Liberation Serif", serif' font-weight="bold" font-size="6" fill="#222">#16</text>
<text x="0" y="0" transform="translate(194.42,265.3) rotate(-90)" text-anchor="middle" font-family='"Liberation Serif", serif' font-weight="bold" font-size="6" fill="#222">#17</text>
<text x="0" y="0" transform="translate(202.87,265.3) rotate(-90)" text-anchor="middle" font-family='"Liberation Serif", serif' font-weight="bold" font-size="6" fill="#222">#18</text>
<text x="0" y="0" transform="translate(211.32,265.3) rotate(-90)" text-anchor="middle" font-family='"Liberation Serif", serif' font-weight="bold" font-size="6" fill="#222">#19</text>
<text x="0" y="0" transform="translate(219.77,265.3) rotate(-90)" text-anchor="middle" font-family='"Liberation Serif", serif' font-weight="bold" font-size="6" fill="#222">#20</text>
<text x="0" y="0" transform="translate(228.22,265.3) rotate(-90)" text-anchor="middle" font-family='"Liberation Serif", serif' font-weight="bold" font-size="6" fill="#222">#21</text>
<text x="0" y="0" transform="translate(236.67,265.3) rotate(-90)" text-anchor="middle" font-family='"Liberation Serif", serif' font-weight="bold" font-size="6" fill="#222">#22</text>
<text x="0" y="0" transform="translate(245.12,265.3) rotate(-90)" text-anchor="middle" font-family='"Liberation Serif", serif' font-weight="bold" font-size="6" fill="#222">#23</text>
<text x="0" y="0" transform="translate(253.57,265.3) rotate(-90)" text-anchor="middle" font-family='"Liberation Serif", serif' font-weight="bold" font-size="6" fill="#222">#24</text>
<text x="0" y="0" transform="translate(262.03,265.3) rotate(-90)" text-anchor="middle" font-family='"Liberation Serif", serif' font-weight="bold" font-size="6" fill="#222">#25</text>
<text x="0" y="0" transform="translate(270.48,265.3) rotate(-90)" text-anchor="middle" font-family='"Liberation Serif", serif' font-weight="bold" font-size="6" fill="#222">#26</text>
<text x="0" y="0" transform="translate(278.93,265.3) rotate(-90)" text-anchor="middle" font-family='"Liberation Serif", serif' font-weight="bold" font-size="6" fill="#222">#27</text>
<text x="0" y="0" transform="translate(287.38,265.3) rotate(-90)" text-anchor="middle" font-family='"Liberation Serif", serif' font-weight="bold" font-size="6" fill="#222">#28</text>
<text x="0" y="0" transform="translate(295.82,265.3) rotate(-90)" text-anchor="middle" font-family='"Liberation Serif", serif' font-weight="bold" font-size="6" fill="#222">#29</text>
<text x="0" y="0" transform="translate(304.28,265.3) rotate(-90)" text-anchor="middle" font-family='"Liberation Serif", serif' font-weight="bold" font-size="6" fill="#222">#30</text>
<text x="0" y="0" transform="translate(312.73,265.3) rotate(-90)" text-anchor="middle" font-family='"Liberation Serif", serif' font-weight="bold" font-size="6" fill="#222">#31</text>
<text x="0" y="0" transform="translate(321.18,265.3) rotate(-90)" text-anchor="middle" font-family='"Liberation Serif", serif' font-weight="bold" font-size="6" fill="#222">#32</text>
<text x="0" y="0" transform="translate(329.62,265.3) rotate(-90)" text-anchor="middle" font-family='"Liberation Serif", serif' font-weight="bold" font-size="6" fill="#222">#33</text>
<text x="0" y="0" transform="translate(338.07,265.3) rotate(-90)" text-anchor="middle" font-family='"Liberation Serif", serif' font-weight="bold" font-size="6" fill="#222">#34</text>
<text x="0" y="0" transform="translate(346.52,265.3) rotate(-90)" text-anchor="middle" font-family='"Liberation Serif", serif' font-weight="bold" font-size="6" fill="#222">#35</text>
<text x="0" y="0" transform="translate(354.98,265.3) rotate(-90)" text-anchor="middle" font-family='"Liberation Serif", serif' font-weight="bold" font-size="6" fill="#222">#36</text>
<text x="0" y="0" transform="translate(363.43,265.3) rotate(-90)" text-anchor="middle" font-family='"Liberation Serif", serif' font-weight="bold" font-size="6" fill="#222">#37</text>
<text x="0" y="0" transform="translate(371.88,265.3) rotate(-90)" text-anchor="middle" font-family='"Liberation Serif", serif' font-weight="bold" font-size="6" fill="#222">#38</text>
<text x="0" y="0" transform="translate(380.32,265.3) rotate(-90)" text-anchor="middle" font-family='"Liberation Serif", serif' font-weight="bold" font-size="6" fill="#222">#39</text>
<text x="0" y="0" transform="translate(388.77,265.3) rotate(-90)" text-anchor="middle" font-family='"Liberation Serif", serif' font-weight="bold" font-size="6" fill="#222">#40</text>
<text x="0" y="0" transform="translate(400.2,264.7) rotate(-90)" text-anchor="middle" font-family='"Liberation Serif", serif' font-weight="bold" font-size="6.2" textLength="35.4" lengthAdjust="spacingAndGlyphs">Total patients</text>
<text x="27" y="292.32" text-anchor="middle" font-family='"Liberation Serif", serif' font-weight="bold" font-style="normal" font-size="6.3"><tspan font-style='italic' font-weight='normal'>DDX41</tspan>&#160;&#160;Pathogenic</text>
<text x="398.2" y="292.32" text-anchor="middle" font-family='"Liberation Serif", serif' font-weight="bold" font-size="6.3">39</text>
<text x="27" y="299.96" text-anchor="middle" font-family='"Liberation Serif", serif' font-weight="bold" font-style="normal" font-size="6.3"><tspan font-style='italic'>DDX41</tspan> *2</text>
<text x="398.2" y="299.96" text-anchor="middle" font-family='"Liberation Serif", serif' font-weight="bold" font-size="6.3">7</text>
<text x="27" y="307.60" text-anchor="middle" font-family='"Liberation Serif", serif' font-weight="bold" font-style="normal" font-size="6.3"><tspan font-style='italic'>DDX41</tspan>&#160;&#160;VUS</text>
<text x="398.2" y="307.60" text-anchor="middle" font-family='"Liberation Serif", serif' font-weight="bold" font-size="6.3">12</text>
<text x="27" y="315.23" text-anchor="middle" font-family='"Liberation Serif", serif' font-weight="bold" font-style="italic" font-size="6.3">DNMT3A</text>
<text x="398.2" y="315.23" text-anchor="middle" font-family='"Liberation Serif", serif' font-weight="bold" font-size="6.3">5</text>
<text x="27" y="322.87" text-anchor="middle" font-family='"Liberation Serif", serif' font-weight="bold" font-style="italic" font-size="6.3">ASXL1</text>
<text x="398.2" y="322.87" text-anchor="middle" font-family='"Liberation Serif", serif' font-weight="bold" font-size="6.3">4</text>
<text x="27" y="330.51" text-anchor="middle" font-family='"Liberation Serif", serif' font-weight="bold" font-style="italic" font-size="6.3">JAK2</text>
<text x="398.2" y="330.51" text-anchor="middle" font-family='"Liberation Serif", serif' font-weight="bold" font-size="6.3">3</text>
<text x="27" y="338.15" text-anchor="middle" font-family='"Liberation Serif", serif' font-weight="bold" font-style="italic" font-size="6.3">EZH2</text>
<text x="398.2" y="338.15" text-anchor="middle" font-family='"Liberation Serif", serif' font-weight="bold" font-size="6.3">2</text>
<text x="27" y="345.79" text-anchor="middle" font-family='"Liberation Serif", serif' font-weight="bold" font-style="italic" font-size="6.3">NRAS</text>
<text x="398.2" y="345.79" text-anchor="middle" font-family='"Liberation Serif", serif' font-weight="bold" font-size="6.3">1</text>
<text x="27" y="353.43" text-anchor="middle" font-family='"Liberation Serif", serif' font-weight="bold" font-style="italic" font-size="6.3">TP53</text>
<text x="398.2" y="353.43" text-anchor="middle" font-family='"Liberation Serif", serif' font-weight="bold" font-size="6.3">1</text>
<text x="27" y="361.07" text-anchor="middle" font-family='"Liberation Serif", serif' font-weight="bold" font-style="italic" font-size="6.3">PHF6</text>
<text x="398.2" y="361.07" text-anchor="middle" font-family='"Liberation Serif", serif' font-weight="bold" font-size="6.3">1</text>
<text x="27" y="368.70" text-anchor="middle" font-family='"Liberation Serif", serif' font-weight="bold" font-style="italic" font-size="6.3">IDH2</text>
<text x="398.2" y="368.70" text-anchor="middle" font-family='"Liberation Serif", serif' font-weight="bold" font-size="6.3">1</text>
<text x="27" y="376.34" text-anchor="middle" font-family='"Liberation Serif", serif' font-weight="bold" font-style="italic" font-size="6.3">CBL</text>
<text x="398.2" y="376.34" text-anchor="middle" font-family='"Liberation Serif", serif' font-weight="bold" font-size="6.3">1</text>
<text x="27" y="383.98" text-anchor="middle" font-family='"Liberation Serif", serif' font-weight="bold" font-style="italic" font-size="6.3">SF3B1</text>
<text x="398.2" y="383.98" text-anchor="middle" font-family='"Liberation Serif", serif' font-weight="bold" font-size="6.3">1</text>
<text x="57.62" y="292.32" text-anchor="middle" font-family='"Liberation Serif", serif' font-weight="bold" font-size="6.6" fill="#000" stroke="#000" stroke-width="0.15">50</text>
<text x="66.07" y="292.32" text-anchor="middle" font-family='"Liberation Serif", serif' font-weight="bold" font-size="6.6" fill="#000" stroke="#000" stroke-width="0.15">48</text>
<text x="74.52" y="292.32" text-anchor="middle" font-family='"Liberation Serif", serif' font-weight="bold" font-size="6.6" fill="#000" stroke="#000" stroke-width="0.15">11</text>
<text x="82.97" y="292.32" text-anchor="middle" font-family='"Liberation Serif", serif' font-weight="bold" font-size="6.6" fill="#000" stroke="#000" stroke-width="0.15">49</text>
<text x="91.42" y="292.32" text-anchor="middle" font-family='"Liberation Serif", serif' font-weight="bold" font-size="6.6" fill="#000" stroke="#000" stroke-width="0.15">7</text>
<text x="99.88" y="292.32" text-anchor="middle" font-family='"Liberation Serif", serif' font-weight="bold" font-size="6.6" fill="#000" stroke="#000" stroke-width="0.15">50</text>
<text x="108.32" y="292.32" text-anchor="middle" font-family='"Liberation Serif", serif' font-weight="bold" font-size="6.6" fill="#000" stroke="#000" stroke-width="0.15">45</text>
<text x="116.77" y="292.32" text-anchor="middle" font-family='"Liberation Serif", serif' font-weight="bold" font-size="6.6" fill="#000" stroke="#000" stroke-width="0.15">46</text>
<text x="125.22" y="292.32" text-anchor="middle" font-family='"Liberation Serif", serif' font-weight="bold" font-size="6.6" fill="#000" stroke="#000" stroke-width="0.15">49</text>
<text x="133.67" y="292.32" text-anchor="middle" font-family='"Liberation Serif", serif' font-weight="bold" font-size="6.6" fill="#000" stroke="#000" stroke-width="0.15">37</text>
<text x="142.12" y="292.32" text-anchor="middle" font-family='"Liberation Serif", serif' font-weight="bold" font-size="6.6" fill="#000" stroke="#000" stroke-width="0.15">47</text>
<text x="150.57" y="292.32" text-anchor="middle" font-family='"Liberation Serif", serif' font-weight="bold" font-size="6.6" fill="#000" stroke="#000" stroke-width="0.15">49</text>
<text x="159.02" y="292.32" text-anchor="middle" font-family='"Liberation Serif", serif' font-weight="bold" font-size="6.6" fill="#000" stroke="#000" stroke-width="0.15">51</text>
<text x="175.92" y="292.32" text-anchor="middle" font-family='"Liberation Serif", serif' font-weight="bold" font-size="6.6" fill="#000" stroke="#000" stroke-width="0.15">52</text>
<text x="184.37" y="292.32" text-anchor="middle" font-family='"Liberation Serif", serif' font-weight="bold" font-size="6.6" fill="#000" stroke="#000" stroke-width="0.15">16</text>
<text x="192.82" y="292.32" text-anchor="middle" font-family='"Liberation Serif", serif' font-weight="bold" font-size="6.6" fill="#000" stroke="#000" stroke-width="0.15">50</text>
<text x="201.27" y="292.32" text-anchor="middle" font-family='"Liberation Serif", serif' font-weight="bold" font-size="6.6" fill="#000" stroke="#000" stroke-width="0.15">47</text>
<text x="209.72" y="292.32" text-anchor="middle" font-family='"Liberation Serif", serif' font-weight="bold" font-size="6.6" fill="#000" stroke="#000" stroke-width="0.15">9</text>
<text x="218.17" y="292.32" text-anchor="middle" font-family='"Liberation Serif", serif' font-weight="bold" font-size="6.6" fill="#000" stroke="#000" stroke-width="0.15">48</text>
<text x="226.62" y="292.32" text-anchor="middle" font-family='"Liberation Serif", serif' font-weight="bold" font-size="6.6" fill="#000" stroke="#000" stroke-width="0.15">48</text>
<text x="235.07" y="292.32" text-anchor="middle" font-family='"Liberation Serif", serif' font-weight="bold" font-size="6.6" fill="#000" stroke="#000" stroke-width="0.15">45</text>
<text x="243.52" y="292.32" text-anchor="middle" font-family='"Liberation Serif", serif' font-weight="bold" font-size="6.6" fill="#000" stroke="#000" stroke-width="0.15">28</text>
<text x="251.97" y="292.32" text-anchor="middle" font-family='"Liberation Serif", serif' font-weight="bold" font-size="6.6" fill="#000" stroke="#000" stroke-width="0.15">49</text>
<text x="260.43" y="292.32" text-anchor="middle" font-family='"Liberation Serif", serif' font-weight="bold" font-size="6.6" fill="#000" stroke="#000" stroke-width="0.15">7</text>
<text x="268.88" y="292.32" text-anchor="middle" font-family='"Liberation Serif", serif' font-weight="bold" font-size="6.6" fill="#000" stroke="#000" stroke-width="0.15">15</text>
<text x="277.32" y="292.32" text-anchor="middle" font-family='"Liberation Serif", serif' font-weight="bold" font-size="6.6" fill="#000" stroke="#000" stroke-width="0.15">45</text>
<text x="285.77" y="292.32" text-anchor="middle" font-family='"Liberation Serif", serif' font-weight="bold" font-size="6.6" fill="#000" stroke="#000" stroke-width="0.15">46</text>
<text x="294.22" y="292.32" text-anchor="middle" font-family='"Liberation Serif", serif' font-weight="bold" font-size="6.6" fill="#000" stroke="#000" stroke-width="0.15">46</text>
<text x="302.68" y="292.32" text-anchor="middle" font-family='"Liberation Serif", serif' font-weight="bold" font-size="6.6" fill="#000" stroke="#000" stroke-width="0.15">5</text>
<text x="311.12" y="292.32" text-anchor="middle" font-family='"Liberation Serif", serif' font-weight="bold" font-size="6.6" fill="#000" stroke="#000" stroke-width="0.15">51</text>
<text x="319.57" y="292.32" text-anchor="middle" font-family='"Liberation Serif", serif' font-weight="bold" font-size="6.6" fill="#000" stroke="#000" stroke-width="0.15">45</text>
<text x="328.02" y="292.32" text-anchor="middle" font-family='"Liberation Serif", serif' font-weight="bold" font-size="6.6" fill="#000" stroke="#000" stroke-width="0.15">6</text>
<text x="336.47" y="292.32" text-anchor="middle" font-family='"Liberation Serif", serif' font-weight="bold" font-size="6.6" fill="#000" stroke="#000" stroke-width="0.15">5</text>
<text x="344.92" y="292.32" text-anchor="middle" font-family='"Liberation Serif", serif' font-weight="bold" font-size="6.6" fill="#000" stroke="#000" stroke-width="0.15">47</text>
<text x="353.38" y="292.32" text-anchor="middle" font-family='"Liberation Serif", serif' font-weight="bold" font-size="6.6" fill="#000" stroke="#000" stroke-width="0.15">45</text>
<text x="361.82" y="292.32" text-anchor="middle" font-family='"Liberation Serif", serif' font-weight="bold" font-size="6.6" fill="#000" stroke="#000" stroke-width="0.15">50</text>
<text x="370.27" y="292.32" text-anchor="middle" font-family='"Liberation Serif", serif' font-weight="bold" font-size="6.6" fill="#000" stroke="#000" stroke-width="0.15">22</text>
<text x="378.72" y="292.32" text-anchor="middle" font-family='"Liberation Serif", serif' font-weight="bold" font-size="6.6" fill="#000" stroke="#000" stroke-width="0.15">51</text>
<text x="387.17" y="292.32" text-anchor="middle" font-family='"Liberation Serif", serif' font-weight="bold" font-size="6.6" fill="#000" stroke="#000" stroke-width="0.15">46</text>
<text x="116.77" y="299.96" text-anchor="middle" font-family='"Liberation Serif", serif' font-weight="bold" font-size="6.6" fill="#000" stroke="#000" stroke-width="0.15">7</text>
<text x="159.02" y="299.96" text-anchor="middle" font-family='"Liberation Serif", serif' font-weight="bold" font-size="6.6" fill="#000" stroke="#000" stroke-width="0.15">19</text>
<text x="226.62" y="299.96" text-anchor="middle" font-family='"Liberation Serif", serif' font-weight="bold" font-size="6.6" fill="#000" stroke="#000" stroke-width="0.15">8</text>
<text x="251.97" y="299.96" text-anchor="middle" font-family='"Liberation Serif", serif' font-weight="bold" font-size="6.6" fill="#000" stroke="#000" stroke-width="0.15">7</text>
<text x="260.43" y="299.96" text-anchor="middle" font-family='"Liberation Serif", serif' font-weight="bold" font-size="6.6" fill="#000" stroke="#000" stroke-width="0.15">8</text>
<text x="344.92" y="299.96" text-anchor="middle" font-family='"Liberation Serif", serif' font-weight="bold" font-size="6.6" fill="#000" stroke="#000" stroke-width="0.15">12</text>
<text x="361.82" y="299.96" text-anchor="middle" font-family='"Liberation Serif", serif' font-weight="bold" font-size="6.6" fill="#000" stroke="#000" stroke-width="0.15">14</text>
<text x="66.07" y="307.60" text-anchor="middle" font-family='"Liberation Serif", serif' font-weight="bold" font-size="6.6" fill="#000" stroke="#000" stroke-width="0.15">17</text>
<text x="74.52" y="307.60" text-anchor="middle" font-family='"Liberation Serif", serif' font-weight="bold" font-size="6.6" fill="#000" stroke="#000" stroke-width="0.15">46</text>
<text x="91.42" y="307.60" text-anchor="middle" font-family='"Liberation Serif", serif' font-weight="bold" font-size="6.6" fill="#000" stroke="#000" stroke-width="0.15">50</text>
<text x="167.47" y="307.60" text-anchor="middle" font-family='"Liberation Serif", serif' font-weight="bold" font-size="6.6" fill="#000" stroke="#000" stroke-width="0.15">46</text>
<text x="209.72" y="307.60" text-anchor="middle" font-family='"Liberation Serif", serif' font-weight="bold" font-size="6.6" fill="#000" stroke="#000" stroke-width="0.15">11</text>
<text x="243.52" y="307.60" text-anchor="middle" font-family='"Liberation Serif", serif' font-weight="bold" font-size="6.6" fill="#000" stroke="#000" stroke-width="0.15">49</text>
<text x="285.77" y="307.60" text-anchor="middle" font-family='"Liberation Serif", serif' font-weight="bold" font-size="6.6" fill="#000" stroke="#000" stroke-width="0.15">40</text>
<text x="294.22" y="307.60" text-anchor="middle" font-family='"Liberation Serif", serif' font-weight="bold" font-size="6.6" fill="#000" stroke="#000" stroke-width="0.15">7</text>
<text x="302.68" y="307.60" text-anchor="middle" font-family='"Liberation Serif", serif' font-weight="bold" font-size="6.6" fill="#000" stroke="#000" stroke-width="0.15">46</text>
<text x="328.02" y="307.60" text-anchor="middle" font-family='"Liberation Serif", serif' font-weight="bold" font-size="6.6" fill="#000" stroke="#000" stroke-width="0.15">46</text>
<text x="336.47" y="307.60" text-anchor="middle" font-family='"Liberation Serif", serif' font-weight="bold" font-size="6.6" fill="#000" stroke="#000" stroke-width="0.15">46</text>
<text x="370.27" y="307.60" text-anchor="middle" font-family='"Liberation Serif", serif' font-weight="bold" font-size="6.6" fill="#000" stroke="#000" stroke-width="0.15">21</text>
<text x="218.17" y="315.23" text-anchor="middle" font-family='"Liberation Serif", serif' font-weight="bold" font-size="6.6" fill="#000" stroke="#000" stroke-width="0.15">7</text>
<text x="235.07" y="315.23" text-anchor="middle" font-family='"Liberation Serif", serif' font-weight="bold" font-size="6.6" fill="#000" stroke="#000" stroke-width="0.15">20</text>
<text x="277.32" y="315.23" text-anchor="middle" font-family='"Liberation Serif", serif' font-weight="bold" font-size="6.6" fill="#000" stroke="#000" stroke-width="0.15">5</text>
<text x="302.68" y="315.23" text-anchor="middle" font-family='"Liberation Serif", serif' font-weight="bold" font-size="6.6" fill="#000" stroke="#000" stroke-width="0.15">7</text>
<text x="311.12" y="315.23" text-anchor="middle" font-family='"Liberation Serif", serif' font-weight="bold" font-size="6.6" fill="#000" stroke="#000" stroke-width="0.15">6</text>
<text x="235.07" y="322.87" text-anchor="middle" font-family='"Liberation Serif", serif' font-weight="bold" font-size="6.6" fill="#000" stroke="#000" stroke-width="0.15">7</text>
<text x="243.52" y="322.87" text-anchor="middle" font-family='"Liberation Serif", serif' font-weight="bold" font-size="6.6" fill="#000" stroke="#000" stroke-width="0.15">26</text>
<text x="260.43" y="322.87" text-anchor="middle" font-family='"Liberation Serif", serif' font-weight="bold" font-size="6.6" fill="#000" stroke="#000" stroke-width="0.15">19</text>
<text x="294.22" y="322.87" text-anchor="middle" font-family='"Liberation Serif", serif' font-weight="bold" font-size="6.6" fill="#000" stroke="#000" stroke-width="0.15">6</text>
<text x="218.17" y="330.51" text-anchor="middle" font-family='"Liberation Serif", serif' font-weight="bold" font-size="6.6" fill="#000" stroke="#000" stroke-width="0.15">12</text>
<text x="268.88" y="330.51" text-anchor="middle" font-family='"Liberation Serif", serif' font-weight="bold" font-size="6.6" fill="#000" stroke="#000" stroke-width="0.15">26</text>
<text x="285.77" y="330.51" text-anchor="middle" font-family='"Liberation Serif", serif' font-weight="bold" font-size="6.6" fill="#000" stroke="#000" stroke-width="0.15">42</text>
<text x="226.62" y="338.15" text-anchor="middle" font-family='"Liberation Serif", serif' font-weight="bold" font-size="6.6" fill="#000" stroke="#000" stroke-width="0.15">7</text>
<text x="251.97" y="338.15" text-anchor="middle" font-family='"Liberation Serif", serif' font-weight="bold" font-size="6.6" fill="#000" stroke="#000" stroke-width="0.15">6</text>
<text x="294.22" y="345.79" text-anchor="middle" font-family='"Liberation Serif", serif' font-weight="bold" font-size="6.6" fill="#000" stroke="#000" stroke-width="0.15">6</text>
<text x="268.88" y="353.43" text-anchor="middle" font-family='"Liberation Serif", serif' font-weight="bold" font-size="6.6" fill="#000" stroke="#000" stroke-width="0.15">26</text>
<text x="243.52" y="361.07" text-anchor="middle" font-family='"Liberation Serif", serif' font-weight="bold" font-size="6.6" fill="#000" stroke="#000" stroke-width="0.15">52</text>
<text x="218.17" y="368.70" text-anchor="middle" font-family='"Liberation Serif", serif' font-weight="bold" font-size="6.6" fill="#000" stroke="#000" stroke-width="0.15">6</text>
<text x="361.82" y="376.34" text-anchor="middle" font-family='"Liberation Serif", serif' font-weight="bold" font-size="6.6" fill="#000" stroke="#000" stroke-width="0.15">9</text>
<text x="319.57" y="383.98" text-anchor="middle" font-family='"Liberation Serif", serif' font-weight="bold" font-size="6.6" fill="#000" stroke="#000" stroke-width="0.15">35</text>
<rect x="487" y="11.4" width="195.3" height="131.8" fill="#fff" stroke="#d2d2d2" stroke-width="0.8"/>
<line x1="483.6" y1="143.20" x2="487" y2="143.20" stroke="#bdbdbd" stroke-width="0.7"/>
<text x="480.6" y="145.40" text-anchor="end" font-family='"Liberation Sans", sans-serif' font-size="6.3" fill="#222">0</text>
<line x1="485.2" y1="130.03" x2="487" y2="130.03" stroke="#cfcfcf" stroke-width="0.6"/>
<line x1="483.6" y1="116.86" x2="487" y2="116.86" stroke="#bdbdbd" stroke-width="0.7"/>
<text x="480.6" y="119.06" text-anchor="end" font-family='"Liberation Sans", sans-serif' font-size="6.3" fill="#222">0.2</text>
<line x1="485.2" y1="103.69" x2="487" y2="103.69" stroke="#cfcfcf" stroke-width="0.6"/>
<line x1="483.6" y1="90.52" x2="487" y2="90.52" stroke="#bdbdbd" stroke-width="0.7"/>
<text x="480.6" y="92.72" text-anchor="end" font-family='"Liberation Sans", sans-serif' font-size="6.3" fill="#222">0.4</text>
<line x1="485.2" y1="77.35" x2="487" y2="77.35" stroke="#cfcfcf" stroke-width="0.6"/>
<line x1="483.6" y1="64.18" x2="487" y2="64.18" stroke="#bdbdbd" stroke-width="0.7"/>
<text x="480.6" y="66.38" text-anchor="end" font-family='"Liberation Sans", sans-serif' font-size="6.3" fill="#222">0.6</text>
<line x1="485.2" y1="51.01" x2="487" y2="51.01" stroke="#cfcfcf" stroke-width="0.6"/>
<line x1="483.6" y1="37.84" x2="487" y2="37.84" stroke="#bdbdbd" stroke-width="0.7"/>
<text x="480.6" y="40.04" text-anchor="end" font-family='"Liberation Sans", sans-serif' font-size="6.3" fill="#222">0.8</text>
<line x1="485.2" y1="24.67" x2="487" y2="24.67" stroke="#cfcfcf" stroke-width="0.6"/>
<line x1="483.6" y1="11.50" x2="487" y2="11.50" stroke="#bdbdbd" stroke-width="0.7"/>
<text x="480.6" y="13.70" text-anchor="end" font-family='"Liberation Sans", sans-serif' font-size="6.3" fill="#222">1.0</text>
<line x1="487.00" y1="143.2" x2="487.00" y2="146.6" stroke="#bdbdbd" stroke-width="0.7"/>
<text x="486.20" y="154.0" text-anchor="middle" font-family='"Liberation Sans", sans-serif' font-size="6.4" fill="#222">0</text>
<line x1="514.90" y1="143.2" x2="514.90" y2="145.2" stroke="#cfcfcf" stroke-width="0.6"/>
<line x1="542.80" y1="143.2" x2="542.80" y2="146.6" stroke="#bdbdbd" stroke-width="0.7"/>
<text x="542.00" y="154.0" text-anchor="middle" font-family='"Liberation Sans", sans-serif' font-size="6.4" fill="#222">50</text>
<line x1="570.70" y1="143.2" x2="570.70" y2="145.2" stroke="#cfcfcf" stroke-width="0.6"/>
<line x1="598.60" y1="143.2" x2="598.60" y2="146.6" stroke="#bdbdbd" stroke-width="0.7"/>
<text x="597.80" y="154.0" text-anchor="middle" font-family='"Liberation Sans", sans-serif' font-size="6.4" fill="#222">100</text>
<line x1="626.50" y1="143.2" x2="626.50" y2="145.2" stroke="#cfcfcf" stroke-width="0.6"/>
<line x1="654.40" y1="143.2" x2="654.40" y2="146.6" stroke="#bdbdbd" stroke-width="0.7"/>
<text x="653.60" y="154.0" text-anchor="middle" font-family='"Liberation Sans", sans-serif' font-size="6.4" fill="#222">150</text>
<text x="584.3" y="162.8" text-anchor="middle" font-family='"Liberation Sans", sans-serif' font-size="6.4" fill="#222">OS (months)</text>
<text x="0" y="0" transform="translate(468.3,76.5) rotate(-90)" text-anchor="middle" font-family='"Liberation Sans", sans-serif' font-size="6.4" fill="#222">Surviving</text>
<text x="458.9" y="20.1" font-family='"Liberation Serif", serif' font-weight="bold" font-size="17.4">C</text>
<polyline points="487,11.6 639.5,11.6 639.5,77.2 662.8,77.2" fill="none" stroke="#4a78d6" stroke-width="1.1"/>
<polyline points="492.3,11.6 492.3,17 494.6,17 494.6,30.4 495.3,30.4 495.3,37.1 499.3,37.1 499.3,43.2 510,43.2 510,52.3 519.3,52.3 519.3,65.4 532.7,65.4 532.7,80.8 546.2,80.8 546.2,96.2 555.8,96.2 555.8,119.3 565.5,119.3" fill="none" stroke="#d84a5e" stroke-width="1.2"/>
<rect x="486.6" y="121.6" width="66.4" height="18" fill="#f0f0f0"/>
<line x1="488.5" y1="127" x2="498.8" y2="127" stroke="#d84a5e" stroke-width="1"/>
<line x1="488.5" y1="135.5" x2="498.8" y2="135.5" stroke="#4a78d6" stroke-width="1"/>
<text x="501" y="129.2" font-family='"Liberation Sans", sans-serif' font-size="6.5" fill="#222">Treatment group</text>
<text x="501" y="137.7" font-family='"Liberation Sans", sans-serif' font-size="6.5" fill="#222">Observation group</text>
<text x="605.7" y="140.6" font-family='"Liberation Serif", serif' font-weight="bold" font-size="9.8" fill="#111" textLength="76.5" lengthAdjust="spacingAndGlyphs">Log-Rank p = . 0069</text>
<rect x="458.2" y="224.2" width="175.3" height="4.4" fill="#f6f6f6"/>
<rect x="458.2" y="224.2" width="28.6" height="123.9" fill="#f6f6f6"/>
<rect x="487" y="228.6" width="195.3" height="131.9" fill="#fff" stroke="#d2d2d2" stroke-width="0.8"/>
<line x1="483.6" y1="360.50" x2="487" y2="360.50" stroke="#bdbdbd" stroke-width="0.7"/>
<text x="480.6" y="362.70" text-anchor="end" font-family='"Liberation Sans", sans-serif' font-size="6.3" fill="#222">0</text>
<line x1="485.2" y1="347.34" x2="487" y2="347.34" stroke="#cfcfcf" stroke-width="0.6"/>
<line x1="483.6" y1="334.18" x2="487" y2="334.18" stroke="#bdbdbd" stroke-width="0.7"/>
<text x="480.6" y="336.38" text-anchor="end" font-family='"Liberation Sans", sans-serif' font-size="6.3" fill="#222">0.2</text>
<line x1="485.2" y1="321.02" x2="487" y2="321.02" stroke="#cfcfcf" stroke-width="0.6"/>
<line x1="483.6" y1="307.86" x2="487" y2="307.86" stroke="#bdbdbd" stroke-width="0.7"/>
<text x="480.6" y="310.06" text-anchor="end" font-family='"Liberation Sans", sans-serif' font-size="6.3" fill="#222">0.4</text>
<line x1="485.2" y1="294.70" x2="487" y2="294.70" stroke="#cfcfcf" stroke-width="0.6"/>
<line x1="483.6" y1="281.54" x2="487" y2="281.54" stroke="#bdbdbd" stroke-width="0.7"/>
<text x="480.6" y="283.74" text-anchor="end" font-family='"Liberation Sans", sans-serif' font-size="6.3" fill="#222">0.6</text>
<line x1="485.2" y1="268.38" x2="487" y2="268.38" stroke="#cfcfcf" stroke-width="0.6"/>
<line x1="483.6" y1="255.22" x2="487" y2="255.22" stroke="#bdbdbd" stroke-width="0.7"/>
<text x="480.6" y="257.42" text-anchor="end" font-family='"Liberation Sans", sans-serif' font-size="6.3" fill="#222">0.8</text>
<line x1="485.2" y1="242.06" x2="487" y2="242.06" stroke="#cfcfcf" stroke-width="0.6"/>
<line x1="483.6" y1="228.90" x2="487" y2="228.90" stroke="#bdbdbd" stroke-width="0.7"/>
<text x="480.6" y="231.10" text-anchor="end" font-family='"Liberation Sans", sans-serif' font-size="6.3" fill="#222">1.0</text>
<line x1="486.80" y1="360.5" x2="486.80" y2="363.9" stroke="#bdbdbd" stroke-width="0.7"/>
<text x="486.80" y="371.6" text-anchor="middle" font-family='"Liberation Sans", sans-serif' font-size="6.4" fill="#222">0</text>
<line x1="506.23" y1="360.5" x2="506.23" y2="362.5" stroke="#cfcfcf" stroke-width="0.6"/>
<line x1="525.65" y1="360.5" x2="525.65" y2="363.9" stroke="#bdbdbd" stroke-width="0.7"/>
<text x="525.65" y="371.6" text-anchor="middle" font-family='"Liberation Sans", sans-serif' font-size="6.4" fill="#222">20</text>
<line x1="545.08" y1="360.5" x2="545.08" y2="362.5" stroke="#cfcfcf" stroke-width="0.6"/>
<line x1="564.50" y1="360.5" x2="564.50" y2="363.9" stroke="#bdbdbd" stroke-width="0.7"/>
<text x="564.50" y="371.6" text-anchor="middle" font-family='"Liberation Sans", sans-serif' font-size="6.4" fill="#222">40</text>
<line x1="583.92" y1="360.5" x2="583.92" y2="362.5" stroke="#cfcfcf" stroke-width="0.6"/>
<line x1="603.35" y1="360.5" x2="603.35" y2="363.9" stroke="#bdbdbd" stroke-width="0.7"/>
<text x="603.35" y="371.6" text-anchor="middle" font-family='"Liberation Sans", sans-serif' font-size="6.4" fill="#222">60</text>
<line x1="622.77" y1="360.5" x2="622.77" y2="362.5" stroke="#cfcfcf" stroke-width="0.6"/>
<line x1="642.20" y1="360.5" x2="642.20" y2="363.9" stroke="#bdbdbd" stroke-width="0.7"/>
<text x="642.20" y="371.6" text-anchor="middle" font-family='"Liberation Sans", sans-serif' font-size="6.4" fill="#222">80</text>
<line x1="661.62" y1="360.5" x2="661.62" y2="362.5" stroke="#cfcfcf" stroke-width="0.6"/>
<line x1="681.05" y1="360.5" x2="681.05" y2="363.9" stroke="#bdbdbd" stroke-width="0.7"/>
<text x="681.05" y="371.6" text-anchor="middle" font-family='"Liberation Sans", sans-serif' font-size="6.4" fill="#222">100</text>
<text x="585" y="380" text-anchor="middle" font-family='"Liberation Sans", sans-serif' font-size="6.4" fill="#222">Treatment free survival (months)</text>
<text x="0" y="0" transform="translate(468.3,294) rotate(-90)" text-anchor="middle" font-family='"Liberation Sans", sans-serif' font-size="6.4" fill="#222">Surviving</text>
<text x="458.8" y="237.9" font-family='"Liberation Serif", serif' font-weight="bold" font-size="17">D</text>
<polyline points="513.6,228.9 513.6,244.9 514.5,244.9 514.5,261.3 522.7,261.3 522.7,281.3 666.4,281.3" fill="none" stroke="#ee5566" stroke-width="1"/>
</svg></body></html>
